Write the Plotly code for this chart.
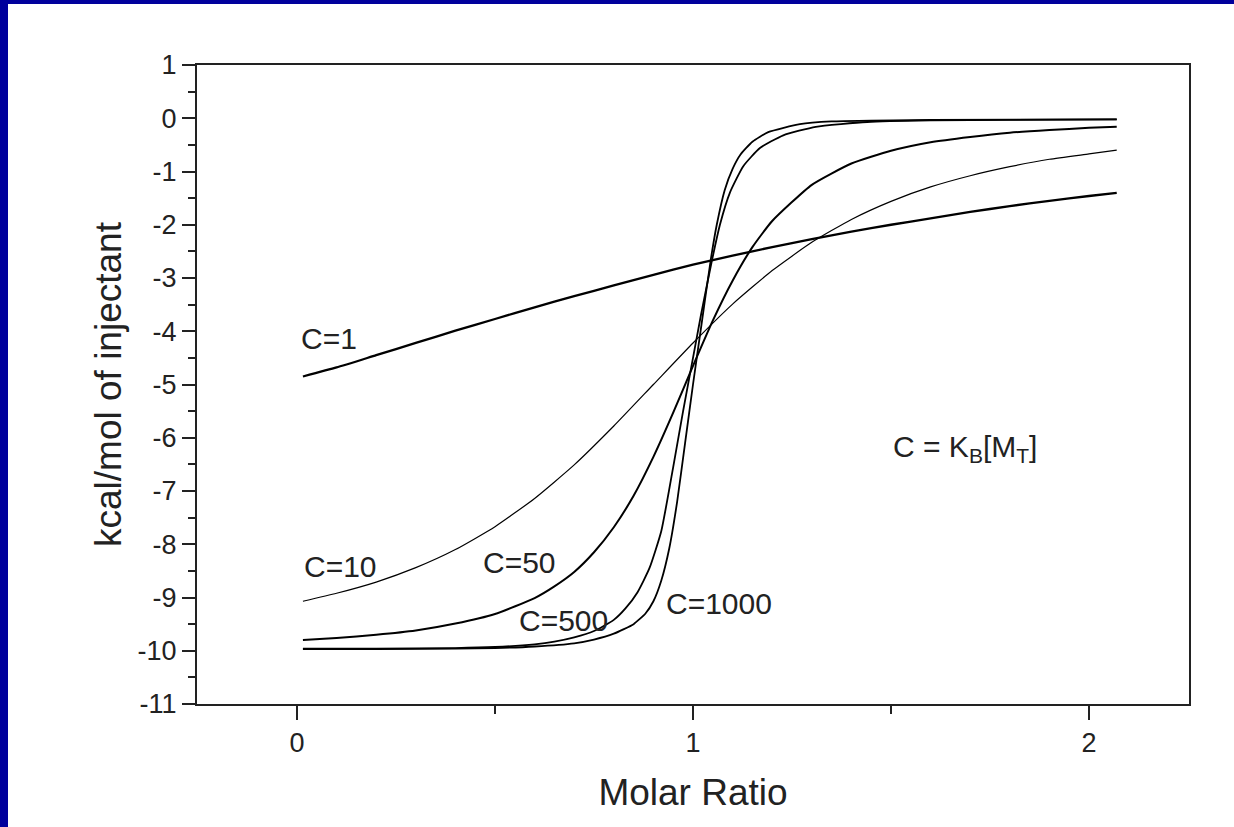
import plotly.graph_objects as go

# ---- data ----
x_c1 = [0.015, 0.1, 0.2, 0.3, 0.4, 0.5, 0.6, 0.7, 0.8, 0.9, 1.0, 1.1, 1.2, 1.3, 1.4, 1.5, 1.6, 1.7, 1.8, 1.9, 2.0, 2.07]
y_c1 = [-4.85, -4.68, -4.45, -4.22, -3.99, -3.77, -3.55, -3.34, -3.14, -2.94, -2.75, -2.58, -2.42, -2.27, -2.13, -2.00, -1.88, -1.76, -1.65, -1.55, -1.46, -1.40]

x_c10 = [0.015, 0.1, 0.2, 0.3, 0.4, 0.5, 0.6, 0.7, 0.8, 0.9, 1.0, 1.1, 1.2, 1.3, 1.4, 1.5, 1.6, 1.7, 1.8, 1.9, 2.0, 2.07]
y_c10 = [-9.07, -8.92, -8.71, -8.44, -8.10, -7.67, -7.14, -6.51, -5.78, -5.00, -4.22, -3.49, -2.86, -2.33, -1.90, -1.56, -1.29, -1.08, -0.91, -0.77, -0.67, -0.60]

x_c50 = [0.015, 0.1, 0.2, 0.3, 0.4, 0.5, 0.6, 0.65, 0.7, 0.75, 0.8, 0.85, 0.9, 0.95, 1.0, 1.05, 1.1, 1.15, 1.2, 1.3, 1.4, 1.5, 1.6, 1.7, 1.8, 1.9, 2.0, 2.07]
y_c50 = [-9.80, -9.76, -9.70, -9.62, -9.49, -9.31, -9.01, -8.79, -8.52, -8.15, -7.68, -7.09, -6.36, -5.53, -4.65, -3.80, -3.05, -2.42, -1.93, -1.25, -0.85, -0.61, -0.45, -0.35, -0.27, -0.22, -0.18, -0.16]

x_c500 = [0.015, 0.2, 0.4, 0.5, 0.6, 0.65, 0.7, 0.75, 0.8, 0.83, 0.86, 0.89, 0.92, 0.95, 0.975, 1.0, 1.02, 1.047, 1.068, 1.093, 1.127, 1.169, 1.228, 1.31, 1.44, 1.6, 1.8, 2.07]
y_c500 = [-9.96, -9.96, -9.95, -9.93, -9.88, -9.83, -9.75, -9.63, -9.42, -9.20, -8.90, -8.45, -7.75, -6.55, -5.50, -4.50, -3.70, -2.70, -2.00, -1.40, -0.90, -0.56, -0.32, -0.16, -0.07, -0.04, -0.03, -0.02]

x_c1000 = [0.015, 0.2, 0.4, 0.5, 0.6, 0.7, 0.75, 0.8, 0.85, 0.88, 0.9, 0.92, 0.94, 0.96, 0.98, 1.0, 1.02, 1.045, 1.06, 1.08, 1.10, 1.12, 1.15, 1.19, 1.27, 1.35, 1.6, 2.07]
y_c1000 = [-9.97, -9.97, -9.96, -9.95, -9.92, -9.86, -9.79, -9.68, -9.50, -9.30, -9.07, -8.68, -8.08, -7.20, -6.10, -5.00, -3.95, -2.65, -2.00, -1.35, -0.95, -0.68, -0.44, -0.26, -0.11, -0.06, -0.03, -0.02]

labels = ["C=1", "C=10", "C=50", "C=500", "C=1000"]
label_x = [0.081, 0.111, 0.561, 0.674, 1.066]
label_y = [-4.13, -8.41, -8.35, -9.44, -9.12]

x_tick_vals = [0, 1, 2]
x_tick_text = ["0", "1", "2"]
y_tick_vals = [1, 0, -1, -2, -3, -4, -5, -6, -7, -8, -9, -10, -11]
y_tick_text = ["1", "0", "-1", "-2", "-3", "-4", "-5", "-6", "-7", "-8", "-9", "-10", "-11"]

x_title = "Molar Ratio"
y_title = "kcal/mol of injectant"
formula_text = "C = K<sub>B</sub>[M<sub>T</sub>]"

FONT = "Arial, 'Liberation Sans', sans-serif"
INK = "#222222"
BLUE = "#00009C"

fig = go.Figure()
series = [
    (x_c1, y_c1, 2.3),
    (x_c10, y_c10, 1.2),
    (x_c50, y_c50, 2.0),
    (x_c500, y_c500, 1.8),
    (x_c1000, y_c1000, 1.8),
]
for name, (xs, ys, w) in zip(labels, series):
    fig.add_trace(go.Scatter(
        x=xs, y=ys, mode="lines", name=name,
        line=dict(color="black", width=w, shape="spline", smoothing=0.5),
        showlegend=False, hoverinfo="skip",
    ))

for t, ax, ay in zip(labels, label_x, label_y):
    fig.add_annotation(x=ax, y=ay, text=t, showarrow=False,
                       xanchor="center", yanchor="middle",
                       font=dict(family=FONT, size=30, color=INK))

fig.add_annotation(x=1.5, y=-6.2, text=formula_text, showarrow=False,
                   xanchor="left", yanchor="middle",
                   font=dict(family=FONT, size=30, color=INK))

W, H = 1234, 827
L, R, T, B = 197, 45, 65, 123
pw, ph = W - L - R, H - T - B

def px(xp):
    return (xp - L) / pw

def py(yp):
    return (H - B - yp) / ph

# blue slide border on the left and top edges only
fig.add_shape(type="rect", xref="paper", yref="paper",
              x0=px(-5), x1=px(8), y0=py(H + 5), y1=py(-5),
              fillcolor=BLUE, line=dict(width=0), layer="below")
fig.add_shape(type="rect", xref="paper", yref="paper",
              x0=px(-5), x1=px(W), y0=py(4), y1=py(-5),
              fillcolor=BLUE, line=dict(width=0), layer="below")

axis_common = dict(
    showgrid=False, zeroline=False, showline=True, linecolor=INK, linewidth=2,
    mirror=True, ticks="outside", tickwidth=2, tickcolor=INK,
    tickfont=dict(family=FONT, size=27, color=INK),
)

fig.update_xaxes(
    range=[-0.2525, 2.2525], tickmode="array", tickvals=x_tick_vals, ticktext=x_tick_text,
    ticklen=14,
    minor=dict(ticks="outside", tick0=0, dtick=0.5, ticklen=8, tickwidth=2,
               tickcolor=INK, showgrid=False),
    title=dict(text=x_title, font=dict(family=FONT, size=37, color=INK), standoff=22),
    **axis_common,
)
fig.update_yaxes(
    range=[-11, 1], tickmode="array", tickvals=y_tick_vals, ticktext=y_tick_text,
    ticklen=13,
    minor=dict(ticks="outside", tick0=0, dtick=0.5, ticklen=7, tickwidth=2,
               tickcolor=INK, showgrid=False),
    title=dict(text=y_title, font=dict(family=FONT, size=37, color=INK), standoff=5),
    **axis_common,
)

fig.update_layout(
    width=W, height=H,
    margin=dict(l=L, r=R, t=T, b=B, autoexpand=False),
    paper_bgcolor="white", plot_bgcolor="white",
    font=dict(family=FONT, color=INK),
)

fig.write_html("out.html")
